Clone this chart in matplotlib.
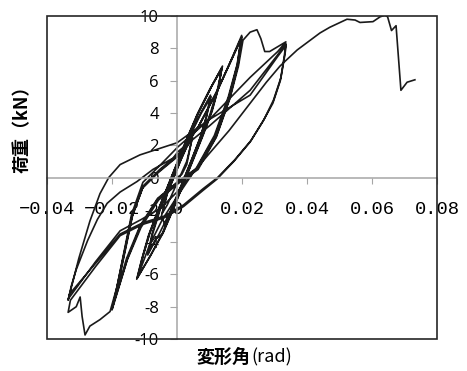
import numpy as np
import matplotlib
matplotlib.use("Agg")
from matplotlib import pyplot as plt
from matplotlib.patches import Rectangle

# Hysteresis record, split by loading stage (drift [rad], load [kN])
# Stage 1: small cycles
s1_x = [0.0, 0.0015, 0.003, 0.0045, 0.003, 0.001, -0.001, -0.003, -0.0045, -0.003,
        -0.001, 0.001, 0.003, 0.0048, 0.0032, 0.0012, -0.0012, -0.0032, -0.0048]
s1_y = [0.0, 0.2, 0.8, 2.3, 1.9, 1.0, 0.0, -1.0, -2.2, -1.7,
        -0.8, 0.1, 1.0, 2.5, 2.0, 1.1, -0.1, -1.1, -2.4]

# Stage 2: cycles to about +-0.01
s2_x = [-0.0035, -0.0018, 0.0013, 0.0043, 0.0072, 0.0091, 0.0105, 0.0075, 0.0038, 0.0007,
        -0.0023, -0.0052, -0.0075, -0.0087, -0.0055, -0.0018, 0.0013, 0.0043, 0.0072,
        0.0091, 0.0103, 0.0073, 0.0036, 0.0005, -0.0025, -0.0054, -0.0077, -0.009]
s2_y = [-3.0, -2.0, -0.5, 1.0, 2.5, 3.8, 5.0, 4.0, 2.5, 1.0,
        -0.5, -2.0, -3.5, -4.6, -3.5, -2.0, -0.5, 1.0, 2.5,
        3.8, 5.1, 4.0, 2.5, 1.0, -0.5, -2.0, -3.5, -4.8]

# Stage 3: cycles to about +0.014 / -0.012
s3_x = [-0.0065, -0.0045, -0.0013, 0.0017, 0.0047, 0.0077, 0.0105, 0.0127, 0.0138,
        0.0105, 0.0065, 0.0033, 0.0003, -0.0027, -0.0057, -0.0085, -0.0107, -0.0122,
        -0.0083, -0.0042, -0.001, 0.002, 0.005, 0.008, 0.0108, 0.0128, 0.0137,
        0.0102, 0.0062, 0.003, 0.0, -0.003, -0.006, -0.0088, -0.0109, -0.0124,
        -0.0081, -0.0046, -0.0015, 0.0015, 0.0045, 0.0075, 0.0103, 0.0125, 0.014,
        0.0108, 0.0068, 0.0036, 0.0005, -0.0025, -0.0055, -0.0083, -0.0105, -0.012]
s3_y = [-3.8, -3.5, -2.0, -0.5, 1.0, 2.5, 4.0, 5.5, 6.8,
        5.6, 4.0, 2.5, 1.0, -0.5, -2.0, -3.5, -5.0, -6.2,
        -4.9, -3.4, -1.9, -0.4, 1.1, 2.6, 4.1, 5.6, 6.7,
        5.5, 3.9, 2.4, 0.9, -0.6, -2.1, -3.6, -5.1, -6.3,
        -4.8, -3.5, -2.0, -0.5, 1.0, 2.5, 4.0, 5.5, 6.9,
        5.7, 4.1, 2.6, 1.1, -0.4, -1.9, -3.4, -4.9, -6.1]

# Stage 4: cycles to +-0.02
s4_x = [-0.0085, -0.0045, 0.0, 0.006, 0.0115, 0.0158, 0.0185, 0.0199,
        0.0165, 0.0125, 0.0065, 0.0005, -0.0055, -0.0105, -0.0138, -0.0163, -0.0182, -0.020,
        -0.0155, -0.0114, -0.006, 0.0, 0.0062, 0.0118, 0.016, 0.0186, 0.0197,
        0.0163, 0.0122, 0.0062, 0.0002, -0.0058, -0.0108, -0.014, -0.0165, -0.0183, -0.0198,
        -0.0152, -0.0112, -0.0058, 0.0003, 0.0064, 0.012, 0.0162, 0.0188, 0.02,
        0.0166, 0.0127, 0.0067, 0.0007, -0.0053, -0.0103, -0.0136, -0.0161, -0.0181, -0.020,
        -0.0153, -0.0111, -0.0057, 0.0002, 0.0065, 0.0121, 0.0163, 0.0189, 0.0203]
s4_y = [-4.2, -2.6, -1.2, 0.6, 2.6, 5.0, 7.0, 8.8,
        7.2, 5.4, 3.1, 1.4, 0.4, -0.6, -2.4, -4.8, -6.6, -8.1,
        -5.0, -3.0, -1.3, -0.3, 0.6, 2.6, 5.0, 7.0, 8.6,
        7.1, 5.3, 3.0, 1.3, 0.3, -0.7, -2.5, -4.9, -6.6, -8.0,
        -5.0, -3.0, -1.3, -0.3, 0.6, 2.5, 4.9, 7.0, 8.7,
        7.2, 5.5, 3.2, 1.5, 0.5, -0.5, -2.3, -4.7, -6.6, -8.2,
        -5.1, -3.1, -1.4, -0.4, 0.5, 2.5, 4.9, 6.9, 8.5]

# Stage 5: cycles to about +-0.0335
s5_x = [0.0225, 0.0246, 0.0258, 0.027, 0.0285, 0.031, 0.0335,
        0.031, 0.0225, 0.01, 0.0003, -0.0055, -0.0105, -0.014, -0.0165, -0.0185, -0.0206,
        -0.0237, -0.0268, -0.0283, -0.0292, -0.0298, -0.031, -0.0335,
        -0.0328, -0.025, -0.0175, -0.0105, -0.004, 0.002, 0.008, 0.0123, 0.0175, 0.0225,
        0.0265, 0.0295, 0.0318, 0.033, 0.0335,
        0.031, 0.0225, 0.01, 0.0003, -0.0012, -0.0074, -0.0123, -0.0175, -0.0215, -0.0245,
        -0.0275, -0.031, -0.0325, -0.0335,
        -0.033, -0.025, -0.0175, -0.0105, -0.004, 0.002, 0.008, 0.0125, 0.0178, 0.0228,
        0.0268, 0.0297, 0.032, 0.0332, 0.0336,
        0.031, 0.0225, 0.01, 0.0, -0.0114, -0.0175, -0.021, -0.0237, -0.0268, -0.0302, -0.0334]
s5_y = [9.0, 9.15, 8.6, 7.8, 7.8, 8.1, 8.4,
        7.8, 6.2, 3.6, 1.9, 0.7, -0.3, -2.3, -4.8, -6.8, -8.3,
        -8.8, -9.2, -9.75, -8.6, -7.4, -8.0, -8.35,
        -7.6, -5.5, -3.6, -2.9, -2.5, -1.8, -0.8, -0.1, 1.0, 2.2,
        3.5, 4.6, 6.0, 7.5, 8.3,
        7.6, 5.4, 3.2, 1.6, 1.2, 0.5, -0.25, -0.9, -1.6, -2.6,
        -3.9, -5.7, -6.7, -7.6,
        -7.2, -5.3, -3.5, -2.8, -2.4, -1.7, -0.7, 0.0, 1.1, 2.3,
        3.6, 4.8, 6.2, 7.6, 8.2,
        7.5, 5.1, 3.6, 2.15, 1.4, 0.8, 0.0, -1.0, -2.7, -5.0, -7.5]

# Stage 6: final push to failure
s6_x = [-0.025, -0.0175, -0.011, -0.005, 0.0, 0.005, 0.01, 0.016, 0.0225, 0.0275,
        0.0317, 0.0338, 0.037, 0.041, 0.044, 0.047, 0.0523, 0.0548, 0.0563, 0.0603,
        0.0625, 0.064, 0.0648, 0.066, 0.0674, 0.0689, 0.0708, 0.0732]
s6_y = [-5.2, -3.3, -2.6, -1.9, -0.9, 0.3, 1.5, 2.9, 4.6, 5.9,
        6.9, 7.3, 7.9, 8.5, 8.95, 9.3, 9.8, 9.75, 9.6, 9.65,
        9.95, 10.05, 9.95, 9.1, 9.4, 5.4, 5.9, 6.05]

x_ticks = [-0.04, -0.02, 0.0, 0.02, 0.04, 0.06, 0.08]
x_tick_labels = ["\u22120.04", "\u22120.02", "0", "0.02", "0.04", "0.06", "0.08"]
y_ticks = [-10, -8, -6, -4, -2, 0, 2, 4, 6, 8, 10]
y_tick_labels = ["-10", "-8", "-6", "-4", "-2", "0", "2", "4", "6", "8", "10"]

drift = np.concatenate([s1_x, s2_x, s3_x, s4_x, s5_x, s6_x])
load = np.concatenate([s1_y, s2_y, s3_y, s4_y, s5_y, s6_y])

fig = plt.figure(figsize=(4.67, 3.71), dpi=100)
ax = fig.add_axes([47 / 467, 1 - 339 / 371, 390 / 467, 323 / 371])
ax.plot(drift, load, color="#1a1a1a", lw=1.2, solid_joinstyle="round")
ax.set_xlim(-0.04, 0.08)
ax.set_ylim(-10, 10)

# axes crossing at the origin, plus the outer frame
ax.spines["left"].set_position("zero")
ax.spines["bottom"].set_position("zero")
for s in ("left", "bottom"):
    ax.spines[s].set_color("#a6a6a6")
    ax.spines[s].set_linewidth(1.1)
ax.spines["top"].set_visible(False)
ax.spines["right"].set_visible(False)
ax.add_patch(Rectangle((0, 0), 1, 1, transform=ax.transAxes, fill=False,
                       ec="#262626", lw=1.2, clip_on=False, zorder=3))

ax.set_xticks(x_ticks)
ax.set_xticklabels(x_tick_labels, family=["Liberation Mono", "DejaVu Sans Mono"], fontsize=13.5)
ax.set_yticks(y_ticks)
ax.set_yticklabels(y_tick_labels, family="Open Sans", fontsize=12)
ax.tick_params(axis="x", length=4, color="#a6a6a6", pad=13)
ax.tick_params(axis="y", length=5, color="#a6a6a6", pad=8)

cjk = ["Noto Sans CJK JP", "DejaVu Sans"]
fig.text(251 / 467, 1 - 357 / 371, "変形角", family=cjk,
         fontsize=13, fontweight="bold", ha="right", va="center")
fig.text(251 / 467, 1 - 357 / 371, "(rad)", family=cjk,
         fontsize=13, ha="left", va="center")
fig.text(22 / 467, 1 - 125 / 371, "荷重（kN）", family=cjk,
         fontsize=13, fontweight="bold", rotation=90, ha="center", va="center")

fig.savefig("out.png", dpi=100)
